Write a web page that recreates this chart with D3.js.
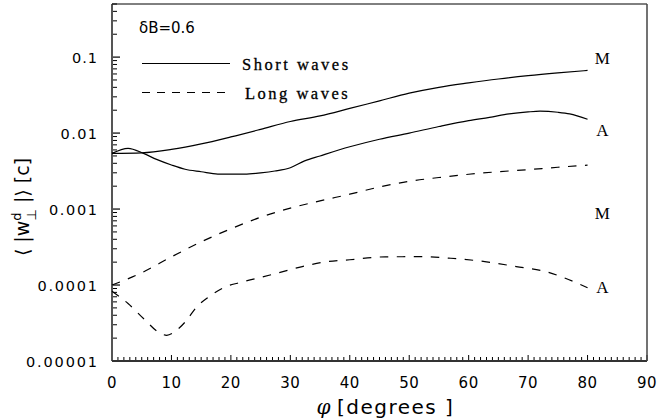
<!DOCTYPE html>
<html><head><meta charset="utf-8">
<script src="https://cdn.jsdelivr.net/npm/d3@7"></script>
<style>body{margin:0;background:#fff}svg{display:block}</style>
</head><body>
<script>
// ---- data ----
const shortM_x = [0,5,10,15,20,25,30,35,40,45,50,55,60,65,70,75,80];
const shortM_y = [0.0054,0.0055,0.0061,0.0072,0.0089,0.0112,0.0142,0.0168,0.0211,0.0266,0.0335,0.0400,0.0457,0.0515,0.0570,0.0620,0.0667];
const shortA_x = [0,2.7,5.3,7.5,10,12.3,15,17.8,22.3,25,27.4,30,32.4,35,40,45,50,55,60,63.5,66.8,70,72,75,77,80];
const shortA_y = [0.0054,0.0063,0.0054,0.0045,0.0038,0.00334,0.0031,0.00289,0.00289,0.0030,0.00317,0.0035,0.0043,0.0050,0.0066,0.0083,0.0100,0.0122,0.0146,0.0161,0.0179,0.0190,0.0194,0.0188,0.0179,0.0152];
const longM_x = [0,5,10,15,20,25,30,35,40,45,50,55,60,65,70,75,80];
const longM_y = [1.0e-4,1.45e-4,2.35e-4,3.7e-4,5.5e-4,7.8e-4,1.03e-3,1.28e-3,1.57e-3,1.95e-3,2.32e-3,2.6e-3,2.87e-3,3.1e-3,3.3e-3,3.55e-3,3.78e-3];
const longA_x = [0,2.7,5.5,7.8,9.2,10.9,12.5,14.2,16.2,19,22,27,32,36,40,46,52,57,63,68,73,76,80];
const longA_y = [8.3e-5,5.7e-5,3.5e-5,2.4e-5,2.18e-5,2.55e-5,3.4e-5,5.1e-5,6.9e-5,9.4e-5,1.1e-4,1.38e-4,1.75e-4,2.02e-4,2.15e-4,2.35e-4,2.36e-4,2.25e-4,2.02e-4,1.75e-4,1.5e-4,1.25e-4,9.2e-5];
const xTicks = [0,10,20,30,40,50,60,70,80,90];
const yTicks = [0.00001,0.0001,0.001,0.01,0.1];
const yTickLabels = ["0.00001","0.0001","0.001","0.01","0.1"];
const curveLabels = [
  {text:"M", x:80, y:0.0667, dy:-12},
  {text:"A", x:80, y:0.0152, dy:10.5},
  {text:"M", x:80, y:0.00088, dy:0},
  {text:"A", x:80, y:9.2e-5, dy:-1}
];

const W=660,H=420;
const L=112,R=647,T=4,B=361;
const svg=d3.select("body").append("svg").attr("width",W).attr("height",H);
const x=d3.scaleLinear().domain([0,90]).range([L,R]);
const y=d3.scaleLog().domain([1e-5,0.5]).range([B,T]);

// minor y ticks
const yMinor=[];
for(let e=-5;e<0;e++){for(let m=2;m<=9;m++){const v=m*Math.pow(10,e);if(v<=0.5)yMinor.push(v);}}
const g=svg.append("g");
g.selectAll(".ymin").data(yMinor).enter().append("line")
 .attr("x1",L).attr("x2",L+5).attr("y1",d=>y(d)).attr("y2",d=>y(d)).attr("stroke","#000").attr("stroke-width",1);
g.selectAll(".ymaj").data(yTicks).enter().append("line")
 .attr("x1",L).attr("x2",L+8).attr("y1",d=>y(d)).attr("y2",d=>y(d)).attr("stroke","#000").attr("stroke-width",1.2);
const xMinor=d3.range(0,91,1);
g.selectAll(".xmin").data(xMinor).enter().append("line")
 .attr("x1",d=>x(d)).attr("x2",d=>x(d)).attr("y1",B).attr("y2",d=>d%10===0?B-6:B-4)
 .attr("stroke","#000").attr("stroke-width",1);

// frame
svg.append("line").attr("x1",L).attr("x2",L).attr("y1",T).attr("y2",B).attr("stroke","#555").attr("stroke-width",2);
svg.append("line").attr("x1",L).attr("x2",R).attr("y1",B).attr("y2",B).attr("stroke","#333").attr("stroke-width",2);
svg.append("line").attr("x1",L).attr("x2",R).attr("y1",T).attr("y2",T).attr("stroke","#000").attr("stroke-width",1);
svg.append("line").attr("x1",R).attr("x2",R).attr("y1",T).attr("y2",B).attr("stroke","#444").attr("stroke-width",1.5);

// tick labels
const tf="'DejaVu Sans', sans-serif";
svg.selectAll(".xl").data(xTicks).enter().append("text")
 .attr("x",d=>x(d)).attr("y",B+27).attr("text-anchor","middle")
 .attr("font-family",tf).attr("font-size",15).attr("letter-spacing",0.5).text(d=>d);
svg.selectAll(".yl").data(yTicks).enter().append("text")
 .attr("x",L-15).attr("y",d=>y(d)+5.5).attr("text-anchor","end")
 .attr("font-family",tf).attr("font-size",14.5)
 .attr("textLength",(d,i)=>11.5*yTickLabels[i].length-9.5).attr("lengthAdjust","spacing")
 .text((d,i)=>yTickLabels[i]);

// lines
const line=d3.line().x(d=>x(d[0])).y(d=>y(d[1])).curve(d3.curveMonotoneX);
const series=[[shortM_x,shortM_y,null],[shortA_x,shortA_y,null],[longM_x,longM_y,"8.5,8.5"],[longA_x,longA_y,"8.5,8.5"]];
series.forEach(s=>{
  svg.append("path").datum(s[0].map((v,i)=>[v,s[1][i]])).attr("d",line)
   .attr("fill","none").attr("stroke","#000").attr("stroke-width",1.2)
   .attr("stroke-dasharray",s[2]);
});

// curve labels
svg.selectAll(".cl").data(curveLabels).enter().append("text")
 .attr("x",x(82.5)).attr("y",d=>y(d.y)+d.dy+6).attr("text-anchor","middle")
 .attr("font-family","'Liberation Serif', serif").attr("font-size",17).text(d=>d.text);

// legend
svg.append("line").attr("x1",142).attr("x2",230).attr("y1",63.5).attr("y2",63.5).attr("stroke","#000").attr("stroke-width",1.2);
svg.append("line").attr("x1",142).attr("x2",230).attr("y1",92.5).attr("y2",92.5).attr("stroke","#000").attr("stroke-width",1.2).attr("stroke-dasharray","8,7");
svg.append("text").attr("x",242).attr("y",70).attr("font-family","'Liberation Serif', serif").attr("font-size",16.5).attr("letter-spacing",2.5).attr("stroke","#000").attr("stroke-width",0.3).text("Short waves");
svg.append("text").attr("x",245).attr("y",99).attr("font-family","'Liberation Serif', serif").attr("font-size",16.5).attr("letter-spacing",2.5).attr("stroke","#000").attr("stroke-width",0.3).text("Long waves");
svg.append("text").attr("x",139).attr("y",33).attr("font-family",tf).attr("font-size",15).text("δB=0.6");

// y label
const yl=svg.append("text").attr("transform","translate(29,207) rotate(-90)").attr("text-anchor","middle")
 .attr("font-family",tf).attr("font-size",19);
yl.append("tspan").text("⟨ |w");
yl.append("tspan").attr("dy",-8).attr("font-size",13).text("d");
yl.append("tspan").attr("dx",-8).attr("dy",15).attr("font-size",13).text("⊥");
yl.append("tspan").attr("dy",-7).text(" |⟩ [c]");

// x label
const xl=svg.append("text").attr("x",(L+R)/2+6).attr("y",414).attr("text-anchor","middle").attr("font-size",20);
xl.append("tspan").attr("font-family","'DejaVu Serif', serif").attr("font-style","italic").text("φ ");
xl.append("tspan").attr("font-family",tf).attr("letter-spacing",1.5).text("[degrees ]");
</script>
</body></html>
